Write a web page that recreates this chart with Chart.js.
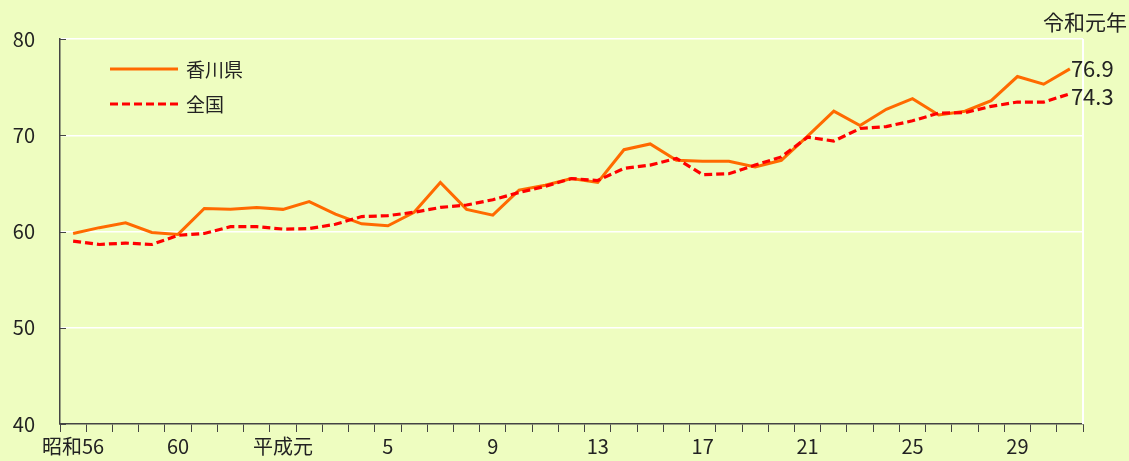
<!DOCTYPE html>
<html><head><meta charset="utf-8">
<script src="https://cdn.jsdelivr.net/npm/chart.js@4/dist/chart.umd.min.js"></script>
<style>html,body{margin:0;padding:0;background:#EEFDC0;}#wrap{width:1129px;height:461px;}</style>
</head><body><div id="wrap"><canvas id="c" width="1129" height="461"></canvas></div>
<script>
const categories = ['昭和56','57','58','59','60','61','62','63','平成元','2','3','4','5','6','7','8','9','10','11','12','13','14','15','16','17','18','19','20','21','22','23','24','25','26','27','28','29','30','令和元'];
const tickLabels = ['昭和56','60','平成元','5','9','13','17','21','25','29'];
const kagawa = [59.8,60.4,60.9,59.9,59.7,62.4,62.3,62.5,62.3,63.1,61.8,60.8,60.6,62.0,65.1,62.3,61.7,64.3,64.8,65.5,65.1,68.5,69.1,67.4,67.3,67.3,66.7,67.4,69.9,72.5,71.0,72.7,73.8,72.1,72.5,73.6,76.1,75.3,76.9];
const national = [59.0,58.65,58.8,58.65,59.6,59.8,60.5,60.5,60.25,60.3,60.75,61.55,61.65,62.0,62.5,62.75,63.3,64.05,64.7,65.5,65.3,66.55,66.9,67.6,65.9,66.0,66.9,67.75,69.8,69.4,70.7,70.9,71.5,72.3,72.35,73.0,73.45,73.45,74.3];
const seriesNames = ['香川県','全国'];
const endLabels = ['76.9','74.3'];
const yearUnitLabel = '令和元年';

const FONT = '"Noto Sans CJK JP", "Noto Sans", sans-serif';
const TEXT = '#222';
const AXIS = '#444';

const extras = {
  id: 'extras',
  beforeDatasetsDraw(chart) {
    const ctx = chart.ctx, a = chart.chartArea, y = chart.scales.y;
    ctx.save();
    ctx.strokeStyle = '#ffffff'; ctx.lineWidth = 2;
    ctx.beginPath(); ctx.moveTo(a.right, a.top); ctx.lineTo(a.right, a.bottom); ctx.stroke();
    ctx.strokeStyle = AXIS; ctx.lineWidth = 1;
    y.ticks.forEach(t => {
      const py = Math.round(y.getPixelForValue(t.value)) + 0.5;
      ctx.beginPath(); ctx.moveTo(a.left, py); ctx.lineTo(a.left + 6, py); ctx.stroke();
    });
    ctx.restore();
  },
  afterDraw(chart) {
    const ctx = chart.ctx, a = chart.chartArea;
    ctx.save();
    // legend
    chart.data.datasets.forEach((ds, i) => {
      const ly = a.top + 30 + i * 35;
      ctx.strokeStyle = ds.borderColor; ctx.lineWidth = ds.borderWidth;
      ctx.setLineDash(ds.borderDash || []);
      ctx.beginPath(); ctx.moveTo(a.left + 50, ly); ctx.lineTo(a.left + 118, ly); ctx.stroke();
      ctx.setLineDash([]);
      ctx.fillStyle = TEXT; ctx.font = '19px ' + FONT;
      ctx.textAlign = 'left'; ctx.textBaseline = 'middle';
      ctx.fillText(ds.label, a.left + 126, ly + 1);
    });
    // end labels
    ctx.font = '22px ' + FONT; ctx.fillStyle = TEXT; ctx.textAlign = 'left'; ctx.textBaseline = 'middle';
    chart.data.datasets.forEach((ds, i) => {
      const meta = chart.getDatasetMeta(i);
      const pt = meta.data[meta.data.length - 1];
      ctx.fillText(endLabels[i], pt.x + 1, pt.y + (i === 0 ? 0 : 3));
    });
    // year unit label
    ctx.font = '21px ' + FONT; ctx.textAlign = 'right'; ctx.textBaseline = 'middle';
    ctx.fillText(yearUnitLabel, 1127, 22);
    ctx.restore();
  }
};

new Chart(document.getElementById('c'), {
  type: 'line',
  data: {
    labels: categories,
    datasets: [
      { label: seriesNames[0], data: kagawa, borderColor: '#FF6A00', borderWidth: 3, pointRadius: 0, tension: 0, order: 1, fill: false },
      { label: seriesNames[1], data: national, borderColor: '#FF0000', borderWidth: 3.2, borderDash: [8,4], pointRadius: 0, tension: 0, order: 0, fill: false }
    ]
  },
  options: {
    responsive: false, animation: false,
    layout: { padding: { top: 39, right: 46, left: 0, bottom: 0 } },
    plugins: { legend: { display: false }, tooltip: { enabled: false } },
    scales: {
      x: {
        offset: true,
        grid: { offset: true, drawOnChartArea: false, drawTicks: true, tickLength: 8, color: AXIS, lineWidth: 1 },
        border: { color: AXIS, width: 1.5 },
        ticks: {
          autoSkip: false, maxRotation: 0, minRotation: 0, padding: 2, color: TEXT,
          font: { family: FONT, size: 20 },
          callback(value) { const c = this.getLabelForValue(value); return tickLabels.includes(c) ? c : ''; }
        },
        afterFit(s) { s.height = 37; }
      },
      y: {
        min: 40, max: 80,
        grid: { drawTicks: false, color: ctx => (ctx.tick && ctx.tick.value === 40) ? 'rgba(0,0,0,0)' : '#ffffff', lineWidth: 1.5 },
        border: { color: AXIS, width: 1.5 },
        ticks: { stepSize: 10, padding: 25, color: TEXT, font: { family: FONT, size: 20 } },
        afterFit(s) { s.width = 60; }
      }
    }
  },
  plugins: [extras]
});
</script></body></html>
